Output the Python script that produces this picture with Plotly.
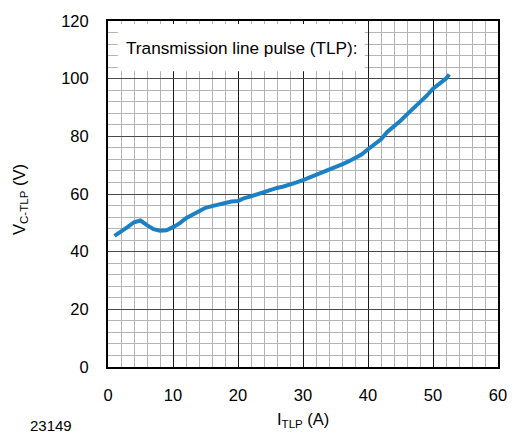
import plotly.graph_objects as go

i_tlp = [1, 2, 3, 4, 5, 6, 7, 8, 9, 10, 11, 12, 13, 14, 15, 16, 17, 18, 19, 20,
         21, 22, 23, 24, 25, 26, 27, 28, 29, 30, 31, 32, 33, 34, 35, 36, 37, 38,
         39, 40, 41, 42, 43, 44, 45, 46, 47, 48, 49, 50, 51, 52, 52.5]
v_tlp = [45.5, 46.8, 48.5, 50.2, 50.8, 49.2, 47.8, 47.3, 47.4, 48.5, 49.8, 51.6,
         52.9, 54.0, 55.2, 55.8, 56.4, 56.9, 57.4, 57.6, 58.6, 59.2, 60.0, 60.7,
         61.4, 62.1, 62.6, 63.2, 64.0, 64.8, 65.7, 66.4, 67.4, 68.4, 69.4, 70.3,
         71.3, 72.5, 73.7, 75.5, 77.4, 79.0, 81.6, 83.4, 85.4, 87.6, 89.7, 91.6,
         94.0, 96.5, 98.2, 100.0, 101.5]

x_ticks = [0, 10, 20, 30, 40, 50, 60]
y_ticks = [0, 20, 40, 60, 80, 100, 120]

FONT = "Liberation Sans, Arial, sans-serif"

fig = go.Figure()
fig.add_trace(go.Scatter(x=i_tlp, y=v_tlp, mode="lines",
                         line=dict(color="#1b80c4", width=4), showlegend=False))

axis_common = dict(
    showline=True, linecolor="black", linewidth=2, mirror=True,
    ticks="", showgrid=True, gridwidth=1,
    zeroline=False, tickfont=dict(family=FONT, size=16.5, color="black"),
)
fig.update_xaxes(range=[0, 60], tickvals=x_ticks, ticklabelstandoff=12,
                 gridcolor="#1a1a1a",
                 minor=dict(dtick=2, showgrid=True, gridcolor="#b4b4b4", gridwidth=1),
                 **axis_common)
fig.update_yaxes(range=[0, 120], tickvals=y_ticks, ticklabelstandoff=14,
                 gridcolor="#4a4a4a",
                 minor=dict(dtick=4, showgrid=True, gridcolor="#b4b4b4", gridwidth=1),
                 **axis_common)

fig.add_shape(type="rect", xref="x", yref="y", x0=1.5, x1=39.5, y0=102.6, y1=119,
              fillcolor="white", line=dict(width=0), layer="above")
fig.add_annotation(x=20.5, y=110.5, xref="x", yref="y", showarrow=False,
                   text="Transmission line pulse (TLP):",
                   font=dict(family=FONT, size=17.2, color="black"))

fig.add_annotation(x=0.5, y=0, xref="paper", yref="paper", xanchor="center",
                   yanchor="middle", yshift=-53, showarrow=False,
                   text="I<sub>TLP</sub> (A)",
                   font=dict(family=FONT, size=16.5, color="black"))
fig.add_annotation(x=0, y=0.5, xref="paper", yref="paper", xanchor="center",
                   yanchor="middle", xshift=-88, yshift=-6, showarrow=False,
                   textangle=-90,
                   text="V<sub>C-TLP</sub> (V)",
                   font=dict(family=FONT, size=16.5, color="black"))
fig.add_annotation(x=0, y=0, xref="paper", yref="paper", xanchor="left",
                   yanchor="middle", xshift=-80, yshift=-58, showarrow=False,
                   text="23149",
                   font=dict(family=FONT, size=15, color="black"))

fig.update_layout(width=519, height=434,
                  margin=dict(l=108, r=17, t=12, b=67),
                  paper_bgcolor="white", plot_bgcolor="white")

fig.write_html("out.html",
               config={"displayModeBar": False},
               post_script="document.body.style.margin='0';"
                           "document.body.style.padding='0';"
                           "document.body.style.overflow='hidden';")
